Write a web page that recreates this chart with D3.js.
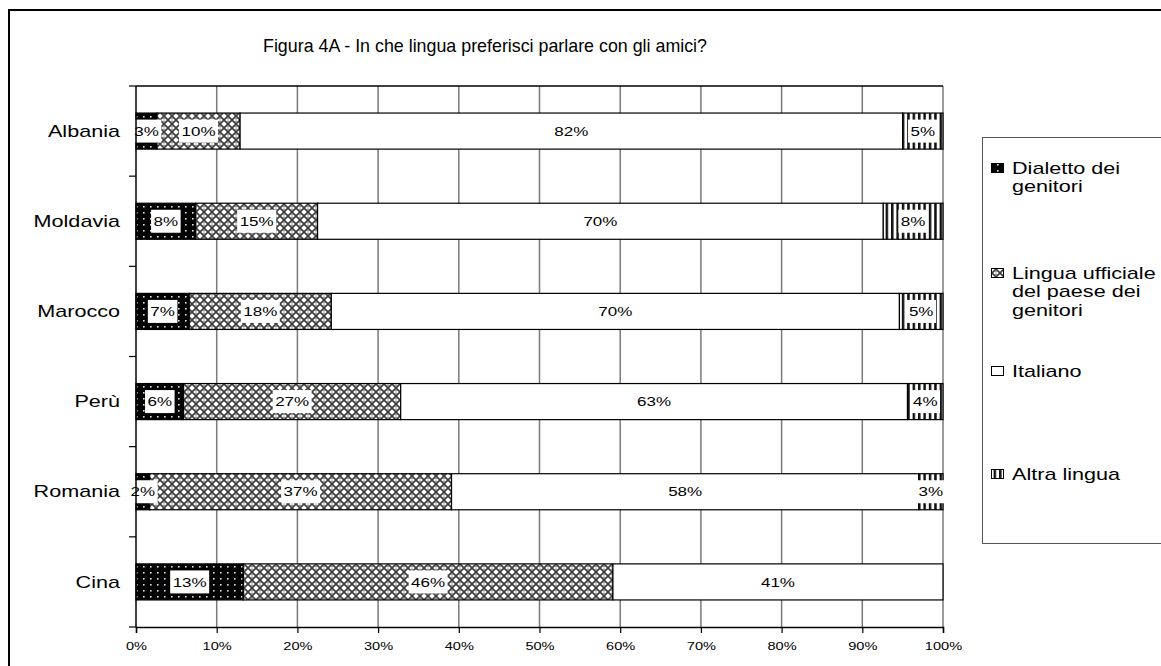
<!DOCTYPE html>
<html>
<head>
<meta charset="utf-8">
<script src="https://cdn.jsdelivr.net/npm/d3@7"></script>
<style>
  html, body { margin: 0; padding: 0; background: #fff; }
  svg { display: block; font-family: Arial, "Liberation Sans", sans-serif; }
</style>
</head>
<body>
<svg id="chart" width="1161" height="666"></svg>
<script>
// ---- data ----
const title = "Figura 4A - In che lingua preferisci parlare con gli amici?";
const categories = ["Albania", "Moldavia", "Marocco", "Perù", "Romania", "Cina"];
const seriesNames = ["Dialetto dei genitori", "Lingua ufficiale del paese dei genitori", "Italiano", "Altra lingua"];
const dialetto   = [2.6, 7.4, 6.6, 5.9, 1.7, 13.3];
const lingua     = [10.3, 15.1, 17.6, 26.9, 37.4, 45.8];
const italiano   = [82.1, 70.1, 70.4, 62.8, 57.9, 40.9];
const altra      = [5.0, 7.4, 5.4, 4.4, 3.0, 0];
const labDialetto = ["3%", "8%", "7%", "6%", "2%", "13%"];
const labLingua   = ["10%", "15%", "18%", "27%", "37%", "46%"];
const labItaliano = ["82%", "70%", "70%", "63%", "58%", "41%"];
const labAltra    = ["5%", "8%", "5%", "4%", "3%", ""];
const xTicks = [0, 10, 20, 30, 40, 50, 60, 70, 80, 90, 100];
const legendLines = [["Dialetto dei", "genitori"], ["Lingua ufficiale", "del paese dei", "genitori"], ["Italiano"], ["Altra lingua"]];

const seriesValues = [dialetto, lingua, italiano, altra];
const seriesLabels = [labDialetto, labLingua, labItaliano, labAltra];
const fills = ["url(#pDots)", "url(#pCheck)", "#ffffff", "url(#pStripes)"];
const SX = 1.35; // horizontal stretch of the original raster text

const svg = d3.select("#chart");

// ---- patterns ----
const defs = svg.append("defs");
const pd = defs.append("pattern").attr("id", "pDots").attr("patternUnits", "userSpaceOnUse")
  .attr("width", 7).attr("height", 6);
pd.append("rect").attr("width", 7).attr("height", 6).attr("fill", "#000");
pd.append("rect").attr("x", 3).attr("y", 2).attr("width", 1.6).attr("height", 1.6).attr("fill", "#e0e0e0");

const pc = defs.append("pattern").attr("id", "pCheck").attr("patternUnits", "userSpaceOnUse")
  .attr("width", 8).attr("height", 8);
pc.append("rect").attr("width", 8).attr("height", 8).attr("fill", "#fff");
pc.append("path").attr("d", "M0,0 L8,8 M8,0 L0,8").attr("stroke", "#3c3c3c").attr("stroke-width", 1.7);
pc.append("rect").attr("x", 3.2).attr("y", 0.6).attr("width", 1.6).attr("height", 1.6).attr("fill", "#808080");
pc.append("rect").attr("x", 3.2).attr("y", 5.8).attr("width", 1.6).attr("height", 1.6).attr("fill", "#808080");

const ps = defs.append("pattern").attr("id", "pStripes").attr("patternUnits", "userSpaceOnUse")
  .attr("width", 5.4).attr("height", 10);
ps.append("rect").attr("width", 5.4).attr("height", 10).attr("fill", "#fff");
ps.append("rect").attr("x", 0).attr("width", 2.5).attr("height", 10).attr("fill", "#111");

function stretchedText(parent, x, y, str, size, anchor, sx) {
  return parent.append("text")
    .attr("transform", `translate(${x},${y}) scale(${sx || SX},1)`)
    .attr("text-anchor", anchor || "start")
    .attr("font-size", size).attr("fill", "#000").text(str);
}

// ---- outer frame ----
svg.append("rect").attr("x", 9).attr("y", 10).attr("width", 1220).attr("height", 720)
  .attr("fill", "none").attr("stroke", "#000").attr("stroke-width", 2);

// ---- title ----
stretchedText(svg, 485, 52, title, 17.5, "middle", 1.02);

// ---- scales ----
const x = d3.scaleLinear().domain([0, 100]).range([136, 943]);
const y = d3.scaleBand().domain(categories).range([86, 627]).paddingInner(0.6).paddingOuter(0.3);
const step = y.step();

// gridlines
svg.append("g").selectAll("line").data(xTicks.filter(d => d > 0)).join("line")
  .attr("x1", d => x(d)).attr("x2", d => x(d)).attr("y1", 86).attr("y2", 627)
  .attr("stroke", "#7a7a7a").attr("stroke-width", 1.5);
// top border
svg.append("line").attr("x1", 136).attr("x2", 943).attr("y1", 86).attr("y2", 86)
  .attr("stroke", "#000").attr("stroke-width", 1.5);

// ---- bars ----
const stacked = categories.map((c, i) => {
  let acc = 0;
  return seriesValues.map((s, k) => {
    const seg = { cat: c, k, x0: acc, x1: acc + s[i], label: seriesLabels[k][i] };
    acc += s[i];
    return seg;
  });
}).flat().filter(d => d.x1 - d.x0 > 0);

const bh = y.bandwidth();
svg.append("g").selectAll("rect").data(stacked).join("rect")
  .attr("x", d => x(d.x0)).attr("y", d => y(d.cat))
  .attr("width", d => x(d.x1) - x(d.x0)).attr("height", bh)
  .attr("fill", d => fills[d.k]).attr("stroke", "#000").attr("stroke-width", 1.2);

// labels
const lg = svg.append("g");
stacked.filter(d => d.label).forEach(d => {
  const cx = (x(d.x0) + x(d.x1)) / 2;
  const cy = y(d.cat) + bh / 2;
  const t = stretchedText(lg, cx, cy + 4.6, d.label, 12.6, "middle");
  const w = t.node().getComputedTextLength() * SX;
  lg.insert("rect", () => t.node())
    .attr("x", cx - w / 2 - 2.5).attr("y", cy - 11.5).attr("width", w + 5).attr("height", 23)
    .attr("fill", "#fff");
});

// ---- axes ----
const yAxis = svg.append("g");
yAxis.append("line").attr("x1", 136).attr("x2", 136).attr("y1", 86).attr("y2", 627)
  .attr("stroke", "#000").attr("stroke-width", 1.5);
const boundaries = d3.range(categories.length + 1).map(i => 86 + i * step);
yAxis.selectAll(".yt").data(boundaries).join("line").attr("class", "yt")
  .attr("x1", 129).attr("x2", 136).attr("y1", d => d).attr("y2", d => d)
  .attr("stroke", "#000").attr("stroke-width", 1.2);
categories.forEach(c => stretchedText(yAxis, 120, y(c) + bh / 2 + 5.6, c, 16, "end"));

const xAxis = svg.append("g").attr("transform", "translate(0,627)")
  .call(d3.axisBottom(x).tickValues(xTicks).tickFormat(d => d + "%").tickSize(6).tickPadding(9));
xAxis.select(".domain").attr("stroke", "#000").attr("stroke-width", 1.5);
xAxis.selectAll(".tick line").attr("stroke", "#000").attr("stroke-width", 1.2);
xAxis.selectAll(".tick text").attr("font-size", 10.8).attr("fill", "#000")
  .attr("font-family", "Arial, 'Liberation Sans', sans-serif")
  .attr("transform", `scale(${SX},1)`);

// ---- legend ----
svg.append("rect").attr("x", 982.5).attr("y", 137.5).attr("width", 220).attr("height", 406)
  .attr("fill", "#fff").attr("stroke", "#555").attr("stroke-width", 1);
const legendY = [168, 273, 371, 474];
const leg = svg.append("g");
seriesNames.forEach((name, k) => {
  const g = leg.append("g").attr("transform", `translate(0,${legendY[k]})`);
  g.append("rect").attr("x", 991.5).attr("y", -4.5).attr("width", 12).attr("height", 9)
    .attr("fill", fills[k]).attr("stroke", "#000").attr("stroke-width", 1);
  legendLines[k].forEach((ln, j) => {
    stretchedText(g, 1012, 5.6 + j * 18.8, ln, 16, "start");
  });
});
</script>
</body>
</html>
